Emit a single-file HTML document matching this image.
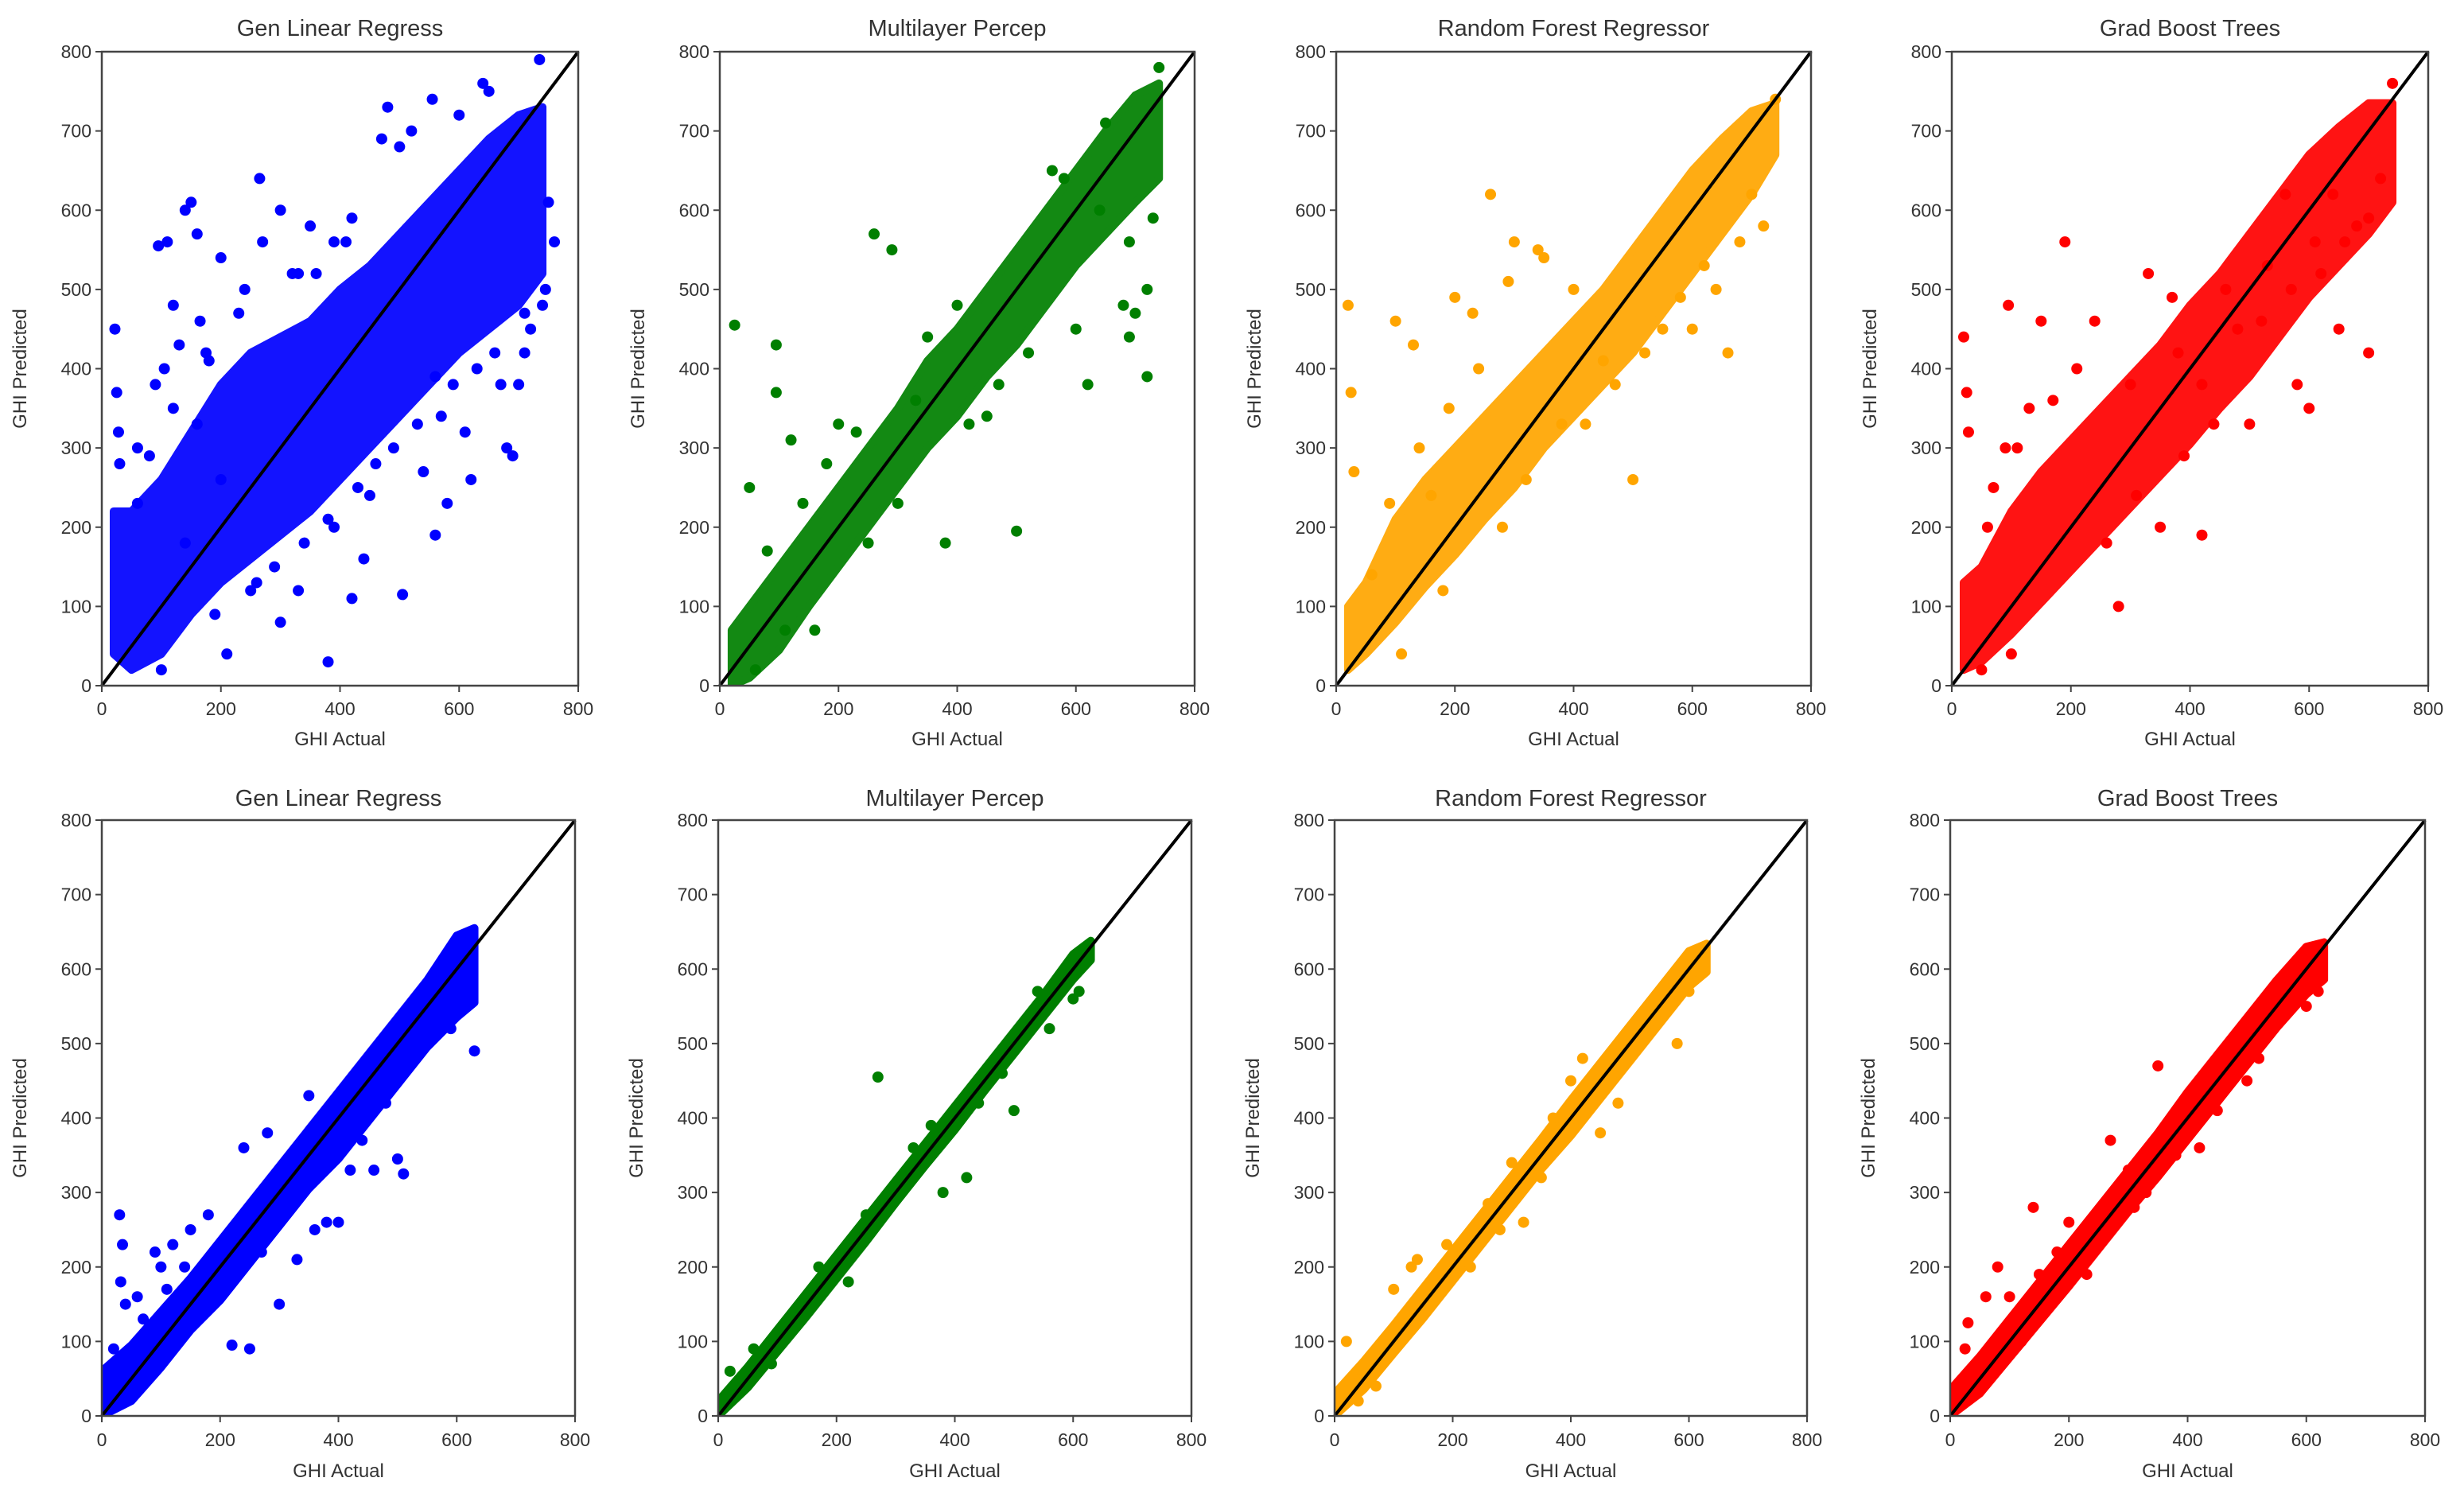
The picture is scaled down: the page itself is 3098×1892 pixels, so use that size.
<!DOCTYPE html>
<html><head><meta charset="utf-8">
<style>
html,body{margin:0;padding:0;background:#fff;}
svg{display:block;}
text{font-family:"Liberation Sans","DejaVu Sans",sans-serif;fill:#333;}
</style></head>
<body>
<svg id="fig" width="3098" height="1892" viewBox="0 0 3098 1892" xmlns="http://www.w3.org/2000/svg"></svg>
<script>
// ---------- data ----------
const titles = ["Gen Linear Regress","Multilayer Percep","Random Forest Regressor","Grad Boost Trees"];
const colors = ["#0000ff","#007f00","#ffa500","#ff0000"];
const tickValues = [0,100,200,300,400,500,600,700,800];
const xTickValues = [0,200,400,600,800];

// Row 1 dense-core bands (x bins, lower / upper predicted)
const r1BandX = [20,50,100,150,200,250,300,350,400,450,500,550,600,650,700,740];
const r1GlrLo = [40,20,40,90,130,160,190,220,260,300,340,380,420,450,480,520];
const r1GlrHi = [220,220,260,320,380,420,440,460,500,530,570,610,650,690,720,730];
const r1MlpLo = [0,10,45,100,150,200,250,300,340,390,430,480,530,570,610,640];
const r1MlpHi = [70,100,150,200,250,300,350,410,450,500,550,600,650,700,745,760];
const r1RfLo  = [20,40,80,125,165,210,250,300,340,380,420,470,520,570,620,670];
const r1RfHi  = [100,130,210,260,300,340,380,420,460,500,550,600,650,690,725,735];
const r1GbtLo = [20,30,65,105,145,185,225,265,305,350,390,440,490,530,570,610];
const r1GbtHi = [130,150,220,270,310,350,390,430,480,520,570,620,670,705,735,735];

// Row 1 scattered points
const r1GlrX = [22,25,28,30,60,95,105,120,140,150,160,165,175,200,210,240,265,300,320,350,380,390,420,440,470,480,505,540,555,560,580,620,640,680,690,720,735,750,760,110,130,90,300,330,380,420,500,520,600,650,700,710,330,200,160,140,270,610,560,450,60,80,120,180,230,260,290,340,360,410,430,460,490,530,570,590,630,660,670,710,740,745,100,190,250,390];
const r1GlrY = [450,370,320,280,230,555,400,480,600,610,570,460,420,540,40,500,640,600,520,580,30,200,110,160,690,730,115,270,740,190,230,260,760,300,290,450,790,610,560,560,430,380,80,120,210,590,680,700,720,750,380,470,520,260,330,180,560,320,390,240,300,290,350,410,470,130,150,180,520,560,250,280,300,330,340,380,400,420,380,420,480,500,20,90,120,560];
const r1MlpX = [25,95,95,260,290,500,720,690,700,620,680,160,330,120,400,560,640,720,740,50,200,450,600,380,80,140,180,230,250,300,350,420,470,520,580,650,690,730,60,110];
const r1MlpY = [455,430,370,570,550,195,390,440,470,380,480,70,360,310,480,650,600,500,780,250,330,340,450,180,170,230,280,320,180,230,440,330,380,420,640,710,560,590,20,70];
const r1RfX = [20,25,30,100,130,200,260,290,300,340,500,450,600,660,700,740,160,380,520,580,620,400,350,230,720,60,90,140,190,240,280,320,420,470,550,640,680,110,180];
const r1RfY = [480,370,270,460,430,490,620,510,560,550,260,410,450,420,620,740,240,330,420,490,530,500,540,470,580,140,230,300,350,400,200,260,330,380,450,500,560,40,120];
const r1GbtX = [20,25,28,90,95,150,190,280,300,330,370,380,420,460,500,530,580,600,640,700,720,740,130,240,620,680,560,420,350,700,650,60,70,110,170,210,260,310,390,440,480,520,570,610,660,50,100];
const r1GbtY = [440,370,320,300,480,460,560,100,380,520,490,420,380,500,330,530,380,350,620,590,640,760,350,460,520,580,620,190,200,420,450,200,250,300,360,400,180,240,290,330,450,460,500,560,560,20,40];

// Row 2 dense-core bands
const r2BandX = [0,50,100,150,200,250,300,350,400,450,500,550,600,630];
const r2GlrLo = [0,20,65,115,155,205,255,305,345,395,445,495,535,555];
const r2GlrHi = [60,95,140,185,235,285,335,385,435,485,535,585,645,655];
const r2MlpLo = [0,38,86,134,184,234,286,336,384,436,486,536,586,612];
const r2MlpHi = [20,66,116,166,216,266,316,366,416,466,516,566,620,638];
const r2RfLo  = [0,36,84,131,181,231,281,331,376,426,476,526,576,596];
const r2RfHi  = [30,74,122,172,222,272,322,372,424,474,524,574,624,634];
const r2GbtLo = [0,30,78,126,174,224,274,321,371,421,471,521,566,586];
const r2GbtHi = [35,80,130,180,230,280,330,380,435,485,535,585,630,636];

// Row 2 scattered points
const r2GlrX = [30,35,32,40,90,100,120,150,180,220,250,280,290,300,330,360,380,400,420,460,500,510,570,600,630,20,60,140,240,350,70,110,200,270,310,440,480,540,590,620];
const r2GlrY = [270,230,180,150,220,200,230,250,270,95,90,380,300,150,210,250,260,260,330,330,345,325,590,640,490,90,160,200,360,430,130,170,160,220,280,370,420,500,520,560];
const r2MlpX = [270,380,420,500,560,600,610,170,330,120,220,480,20,60,90,250,360,440,540];
const r2MlpY = [455,300,320,410,520,560,570,200,360,130,180,460,60,90,70,270,390,420,570];
const r2RfX = [20,50,100,140,260,300,320,350,400,420,450,480,580,600,130,190,40,70,230,280,370,470,520,560];
const r2RfY = [100,60,170,210,285,340,260,320,450,480,380,420,500,570,200,230,20,40,200,250,400,450,530,540];
const r2GbtX = [30,25,60,80,100,140,150,180,200,270,280,300,330,350,380,400,450,480,520,560,600,620,40,120,230,310,420,500,580];
const r2GbtY = [125,90,160,200,160,280,190,220,260,370,300,330,300,470,350,420,410,470,480,580,550,570,60,100,190,280,360,450,560];

// ---------- layout ----------
const rows = [
  {top:65, bottom:862, lefts:[128,905,1680,2454], rights:[727,1502,2277,3053], titleY:45, tickY:899, labelY:937},
  {top:1031, bottom:1780, lefts:[128,903,1678,2452], rights:[723,1498,2272,3049], titleY:1013, tickY:1818, labelY:1857}
];
const bands = [
  [[r1GlrLo,r1GlrHi],[r1MlpLo,r1MlpHi],[r1RfLo,r1RfHi],[r1GbtLo,r1GbtHi]],
  [[r2GlrLo,r2GlrHi],[r2MlpLo,r2MlpHi],[r2RfLo,r2RfHi],[r2GbtLo,r2GbtHi]]
];
const bandXs = [r1BandX, r2BandX];
const pts = [
  [[r1GlrX,r1GlrY],[r1MlpX,r1MlpY],[r1RfX,r1RfY],[r1GbtX,r1GbtY]],
  [[r2GlrX,r2GlrY],[r2MlpX,r2MlpY],[r2RfX,r2RfY],[r2GbtX,r2GbtY]]
];
const NS = "http://www.w3.org/2000/svg";
const svg = document.getElementById('fig');
function mk(tag, attrs, parent){
  const e = document.createElementNS(NS, tag);
  for (const k in attrs) e.setAttribute(k, attrs[k]);
  parent.appendChild(e);
  return e;
}
const rowNames = ["train","test"];
rows.forEach((row, ri) => {
  for (let pi = 0; pi < 4; pi++) {
    const L = row.lefts[pi], R = row.rights[pi], T = row.top, B = row.bottom;
    const sx = v => L + (R - L) * v / 800;
    const sy = v => B - (B - T) * v / 800;
    const g = mk('g', {}, svg);
    
    
    const clipId = 'clip' + ri + pi;
    const cp = mk('clipPath', {id: clipId}, g);
    mk('rect', {x: L, y: T, width: R - L, height: B - T}, cp);
    const plot = mk('g', {'clip-path': 'url(#' + clipId + ')'}, g);
    const bx = bandXs[ri], lo = bands[ri][pi][0], hi = bands[ri][pi][1];
    let p = [];
    for (let i = 0; i < bx.length; i++) p.push(sx(bx[i]) + ',' + sy(hi[i]));
    for (let i = bx.length - 1; i >= 0; i--) p.push(sx(bx[i]) + ',' + sy(lo[i]));
    const band = mk('polygon', {points: p.join(' '), fill: colors[pi], opacity: ri === 0 ? 0.92 : 1, stroke: colors[pi], 'stroke-width': 10, 'stroke-linejoin': 'round'}, plot);
    
    
    const px = pts[ri][pi][0], py = pts[ri][pi][1];
    for (let i = 0; i < px.length; i++) {
      const c = mk('circle', {cx: sx(px[i]), cy: sy(py[i]), r: 7, fill: colors[pi]}, plot);
      
      
    }
    const ln = mk('line', {x1: sx(0), y1: sy(0), x2: sx(800), y2: sy(800), stroke: '#000', 'stroke-width': 4}, g);
    
    
    const fr = mk('rect', {x: L, y: T, width: R - L, height: B - T, fill: 'none', stroke: '#444', 'stroke-width': 2.5}, g);
    
    
    tickValues.forEach(v => {
      mk('line', {x1: L - 8, y1: sy(v), x2: L, y2: sy(v), stroke: '#444', 'stroke-width': 2}, g);
      const t = mk('text', {x: L - 13, y: sy(v) + 8, 'text-anchor': 'end', 'font-size': 23}, g);
      t.textContent = v;
      
      
    });
    xTickValues.forEach(v => {
      mk('line', {x1: sx(v), y1: B, x2: sx(v), y2: B + 8, stroke: '#444', 'stroke-width': 2}, g);
      const t = mk('text', {x: sx(v), y: row.tickY, 'text-anchor': 'middle', 'font-size': 23}, g);
      t.textContent = v;
      
      
    });
    const tt = mk('text', {x: (L + R) / 2, y: row.titleY, 'text-anchor': 'middle', 'font-size': 29}, g);
    tt.textContent = titles[pi];
    
    
    const xl = mk('text', {x: (L + R) / 2, y: row.labelY, 'text-anchor': 'middle', 'font-size': 24}, g);
    xl.textContent = 'GHI Actual';
    
    
    const cy = (T + B) / 2, cx = L - 95;
    const yl = mk('text', {x: cx, y: cy, 'text-anchor': 'middle', 'font-size': 24, transform: 'rotate(-90 ' + cx + ' ' + cy + ')'}, g);
    yl.textContent = 'GHI Predicted';
    
    
  }
});
</script>
</body></html>
